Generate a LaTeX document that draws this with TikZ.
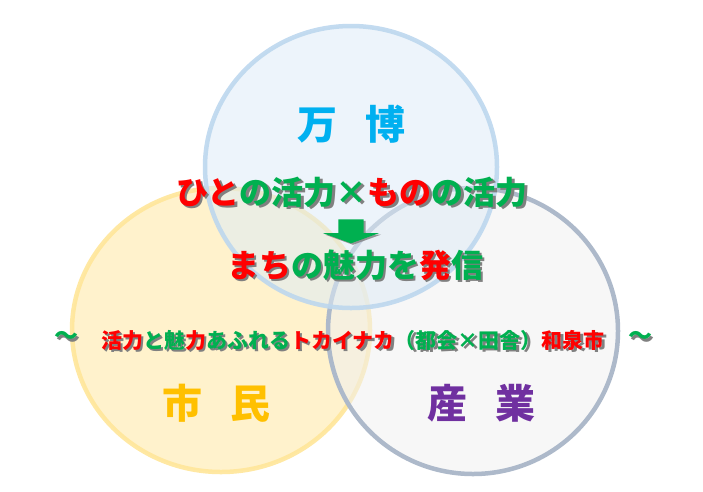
\documentclass[tikz,border=0pt]{standalone}
\usepackage{fontspec}
\newfontfamily\jp{Noto Sans CJK JP Black}
\usetikzlibrary{positioning,calc,shapes.arrows,shadows}

\definecolor{banpakuline}{HTML}{BDD7EE}
\definecolor{banpakufill}{HTML}{DEEBF7}
\definecolor{shiminline}{HTML}{FFE699}
\definecolor{shiminfill}{HTML}{FFF2CC}
\definecolor{sangyoline}{HTML}{ADB9CA}
\definecolor{sangyofill}{HTML}{F0F0F0}
\definecolor{txtred}{HTML}{FF0000}
\definecolor{txtgreen}{HTML}{00B050}
\definecolor{shade}{HTML}{808080}
\definecolor{banpakutxt}{HTML}{00B0F0}
\definecolor{shimintxt}{HTML}{FFC000}
\definecolor{sangyotxt}{HTML}{7030A0}

\newcommand\rd[1]{\textcolor{txtred}{#1}}
\newcommand\gr[1]{\textcolor{txtgreen}{#1}}
\newcommand\jpsize[1]{\jp\fontsize{#1}{#1}\selectfont}
% text with grey shadow: name, position, size, text
\newcommand\poptext[4]{%
  \node[pop] (#1-sh) at ($(#2)+(2.5,2.5)$) {\jpsize{#3}\colorlet{txtred}{shade}\colorlet{txtgreen}{shade}#4};
  \node[pop] (#1) at (#2) {\jpsize{#3}#4};}

\begin{document}
\begin{tikzpicture}[x=1pt,y=-1pt,
  pop/.style={inner sep=0pt,text=shade},
  ring/.style={line width=4.5pt},
  word/.style={inner sep=0pt},
  downarrow/.style={single arrow,rotate=-90,fill=txtgreen,
    inner xsep=0pt,inner ysep=12.5pt,minimum height=24pt,
    single arrow head extend=15.5pt,single arrow tip angle=140,
    drop shadow={shadow xshift=2pt,shadow yshift=-1.5pt,fill=shade,opacity=0.8}}]
  \useasboundingbox (0,0) rectangle (703,491);

  % three circles
  \draw[ring,draw=shiminline,fill=shiminfill,draw opacity=0.9] (221,330) ellipse [x radius=149,y radius=142];
  \draw[ring,draw=sangyoline,fill=sangyofill,fill opacity=0.55] (473,331) ellipse [x radius=145,y radius=143];
  \draw[ring,draw=banpakuline,fill=banpakufill,fill opacity=0.55,draw opacity=0.9] (351,167) ellipse [x radius=146,y radius=141];

  % circle titles
  \node[word,text=banpakutxt] (banpaku) at (351,124) {\jpsize{40}万\hspace{28pt}博};
  \node[word,text=shimintxt] (shimin) at (216,403) {\jpsize{40}市\hspace{28pt}民};
  \node[word,text=sangyotxt] (sangyo) at (481,403) {\jpsize{40}産\hspace{28pt}業};

  % message
  \coordinate (c1) at (352,192);
  \coordinate (c2) at (355,265);
  \coordinate (c3) at (353,340);
  \poptext{katsuryoku}{c1}{32}{\rd{ひと}\gr{の活力×}\rd{もの}\gr{の活力}}
  \node[downarrow] (arrow) at (351,229) {};
  \poptext{miryoku}{c2}{32}{\rd{まち}\gr{の魅力を}\rd{発}\gr{信}}
  \poptext{slogan}{c3}{21}{\rd{活力}\gr{と魅}\rd{力}\gr{あふれる}\rd{トカイナカ}\gr{（都会×田舎）}\rd{和泉市}}
  \coordinate (t1) at (66,338);
  \coordinate (t2) at (640,338);
  \poptext{tildeL}{t1}{24}{\gr{～}}
  \poptext{tildeR}{t2}{24}{\gr{～}}
\end{tikzpicture}
\end{document}
